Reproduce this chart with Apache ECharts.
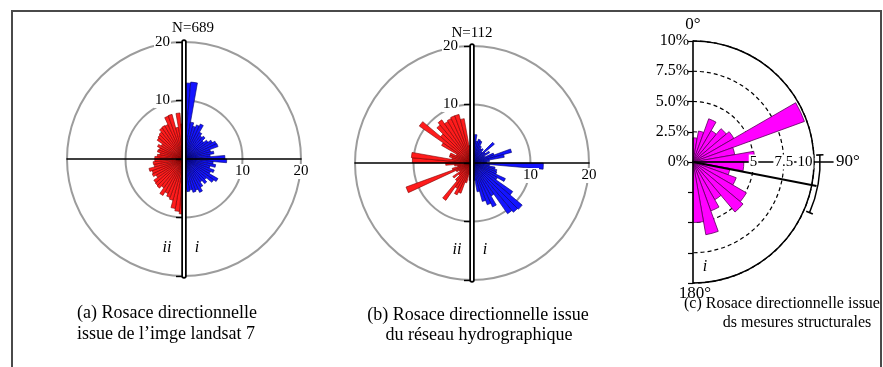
<!DOCTYPE html>
<html>
<head>
<meta charset="utf-8">
<script src="https://cdn.jsdelivr.net/npm/echarts@6/dist/echarts.min.js"></script>
<style>
  html, body { margin: 0; padding: 0; background: #fff; overflow: hidden; }
  #chart { position: absolute; left: 0; top: 0; width: 883px; height: 367px; }
  #frame { position: absolute; left: 11px; top: 10px; width: 867px; height: 420px; border: 2px solid #4a4a4a; pointer-events: none; }
</style>
</head>
<body>
<div id="chart"></div>
<div id="frame"></div>
<script>
const FONT = '"Liberation Serif", "Times New Roman", serif';

// direction classes (degrees from north, clockwise)
const bins5 = Array.from({ length: 72 }, (_, i) => String(i * 5));
const bins10 = Array.from({ length: 18 }, (_, i) => String(i * 10));

// (a) landsat 7, N=689 : 0..175 (i, blue) and 180..355 (ii, red)
const blueA = [13.0, 13.2, 6.4, 5.8, 6.2, 6.6, 5.3, 4.8, 5.1, 4.4, 5.0, 5.6, 6.1, 6.2, 4.7, 5.2, 4.5, 7.0,
               7.3, 5.0, 5.5, 4.6, 5.5, 5.0, 6.7, 6.2, 5.0, 5.5, 4.8, 5.6, 6.3, 5.7, 5.9, 5.4, 5.6, 5.2];
const redA = [9.4, 9.0, 8.6, 7.3, 7.0, 6.5, 7.2, 6.0, 6.5, 6.4, 6.3, 5.5, 6.0, 5.8, 6.2, 5.2, 5.3, 5.0,
              5.0, 4.6, 4.2, 4.7, 4.5, 5.0, 4.5, 5.6, 5.8, 6.0, 6.5, 6.6, 6.5, 7.8, 7.9, 5.5, 7.9, 6.0];

// (b) réseau hydrographique, N=112
const blueB = [4.5, 4.9, 3.8, 4.2, 4.0, 3.2, 2.8, 3.0, 2.5, 5.0, 2.8, 3.5, 2.4, 4.0, 7.0, 5.6, 3.0, 2.5,
               12.2, 3.0, 4.0, 4.4, 4.5, 6.3, 5.0, 8.5, 11.2, 11.0, 10.6, 6.5, 8.3, 7.6, 6.8, 5.0, 3.0, 2.5];
const redB = [2.5, 3.0, 2.0, 3.5, 5.5, 6.0, 5.0, 7.8, 4.0, 3.0, 4.0, 2.5, 3.0, 12.0, 3.5, 2.5, 3.0, 4.5,
              10.2, 10.4, 3.5, 4.0, 4.0, 3.0, 6.0, 11.0, 7.0, 8.5, 9.0, 8.2, 8.4, 8.6, 8.6, 7.7, 3.0, 2.0];

// (c) mesures structurales, % per 10° class (0..170)
const magentaC = [2.0, 2.6, 3.8, 3.0, 3.6, 3.9, 9.8, 3.5, 5.1, 4.2, 3.1, 3.8, 5.1, 5.4, 3.6, 4.3, 6.1, 5.0];

// (c) mean direction and its confidence arc
const meanDirC = 101;
const meanLenC = 10.4;
const confC = [86.8, 113.5];
const confRadC = 10.5;

const empty36 = blueA.map(() => '-');

const labelRich = {
  w: { backgroundColor: '#fff', color: '#000', fontFamily: FONT, fontSize: 15, padding: [0, 1] },
  s: { width: 18 }
};
const noAxis = { show: false, axisLine: { onZero: false } };

// each rose gets 3 grids: horizontal axis (bottom edge on centre),
// vertical axis (left edge on centre) and a white overlay making the double line
function roseGrids(cx, cy, R) {
  return [
    { left: cx - R, top: cy - R, width: 2 * R, height: R },
    { left: cx, top: cy - R, width: R, height: 2 * R },
    { left: cx, top: cy - R, width: R, height: 2 * R }
  ];
}

function roseAxes(g) {
  return {
    x: [
      {
        gridIndex: g, type: 'value', min: -20, max: 20, interval: 10, position: 'bottom', z: 5,
        axisLine: { onZero: false, lineStyle: { color: '#000', width: 1.6 } },
        axisTick: { show: false },
        axisLabel: { formatter: v => (v > 0 ? '{w|' + v + '}' : ''), margin: 5, rich: labelRich, color: '#000', fontFamily: FONT, fontSize: 15 },
        splitLine: { show: false }
      },
      { gridIndex: g + 1, type: 'value', ...noAxis },
      { gridIndex: g + 2, type: 'value', ...noAxis }
    ],
    y: [
      { gridIndex: g, type: 'value', ...noAxis },
      {
        gridIndex: g + 1, type: 'value', min: -20, max: 20, interval: 10, position: 'left', z: 5,
        axisLine: { onZero: false, lineStyle: { color: '#000', width: 5.5 } },
        axisTick: { show: true, length: 8, lineStyle: { color: '#000', width: 1.4 } },
        axisLabel: { formatter: v => (v > 0 ? '{w|' + v + '}' : ''), margin: 13, rich: labelRich, color: '#000', fontFamily: FONT, fontSize: 15 },
        splitLine: { show: false }
      },
      {
        gridIndex: g + 2, type: 'value', min: -20, max: 20, position: 'left', z: 6,
        axisLine: { onZero: false, lineStyle: { color: '#fff', width: 2 } },
        axisTick: { show: false }, axisLabel: { show: false }, splitLine: { show: false }
      }
    ]
  };
}

const axA = roseAxes(0);
const axB = roseAxes(3);

const hiddenAngle = { axisLine: { show: false }, axisTick: { show: false }, axisLabel: { show: false }, splitLine: { show: false } };
const grayRings = {
  axisLine: { show: false }, axisTick: { show: false }, axisLabel: { show: false },
  splitLine: { show: true, lineStyle: { color: '#9c9c9c', width: 2 } }
};

function txt(text, x, y, align, font) {
  return {
    type: 'text', x: x, y: y, silent: true,
    style: { text: text, fill: '#000', font: font || '16px ' + FONT, textAlign: align, textVerticalAlign: 'middle' }
  };
}

const chart = echarts.init(document.getElementById('chart'), null, { renderer: 'canvas' });

chart.setOption({
  backgroundColor: '#fff',
  animation: false,
  textStyle: { fontFamily: FONT },
  grid: [
    ...roseGrids(184, 159, 117),
    ...roseGrids(472, 163, 117),
    { left: 693, top: 41, width: 140, height: 121 },
    { left: 693, top: 41, width: 121, height: 242 }
  ],
  xAxis: [
    ...axA.x, ...axB.x,
    {
      gridIndex: 6, type: 'value', min: 0, max: 11.57, interval: 2.5, position: 'bottom', z: 5,
      axisLine: { onZero: false, lineStyle: { color: '#000', width: 1.6 } },
      axisTick: { show: false },
      axisLabel: {
        formatter: v => (v === 5 || v === 7.5 ? '{w|' + v + '}' : v === 10 ? '{w|10}{s|}' : ''),
        margin: 0, verticalAlign: 'middle', rich: labelRich, color: '#000', fontFamily: FONT, fontSize: 15
      },
      splitLine: { show: false },
      name: '90°', nameLocation: 'end', nameGap: 3,
      nameTextStyle: { color: '#000', fontFamily: FONT, fontSize: 17, verticalAlign: 'middle' }
    },
    { gridIndex: 7, type: 'value', ...noAxis }
  ],
  yAxis: [
    ...axA.y, ...axB.y,
    { gridIndex: 6, type: 'value', ...noAxis },
    {
      gridIndex: 7, type: 'value', min: -10, max: 10, interval: 2.5, position: 'left', z: 5,
      axisLine: { onZero: false, lineStyle: { color: '#000', width: 1.6 } },
      axisTick: { show: true, length: 5, lineStyle: { color: '#000', width: 1.2 } },
      axisLabel: {
        formatter: v => (v === 0 ? '0%' : v === 10 ? '10%' : v > 0 ? v.toFixed(1) + '%' : ''),
        margin: 4, color: '#000', fontFamily: FONT, fontSize: 16
      },
      splitLine: { show: false },
      name: '0°', nameLocation: 'end', nameGap: 8,
      nameTextStyle: { color: '#000', fontFamily: FONT, fontSize: 17 }
    }
  ],
  polar: [
    { center: [184, 159], radius: 117 },
    { center: [472, 163], radius: 117 },
    { center: [693, 162], radius: 121 },
    { center: [693, 162], radius: 121 }
  ],
  angleAxis: [
    { polarIndex: 0, type: 'category', data: bins5, startAngle: 90, clockwise: true, ...hiddenAngle },
    { polarIndex: 1, type: 'category', data: bins5, startAngle: 90, clockwise: true, ...hiddenAngle },
    {
      polarIndex: 2, type: 'category', data: bins10, startAngle: 90, endAngle: -90, clockwise: true,
      axisLine: { show: true, lineStyle: { color: '#000', width: 1.5 } },
      axisTick: { show: false }, axisLabel: { show: false }, splitLine: { show: false }
    },
    { polarIndex: 3, type: 'value', min: 0, max: 360, startAngle: 90, clockwise: true, show: false }
  ],
  radiusAxis: [
    { polarIndex: 0, type: 'value', min: 0, max: 20, interval: 10, ...grayRings },
    { polarIndex: 1, type: 'value', min: 0, max: 20, interval: 10, ...grayRings },
    {
      polarIndex: 2, type: 'value', min: 0, max: 10, interval: 2.5,
      axisLine: { show: false }, axisTick: { show: false }, axisLabel: { show: false },
      splitLine: { show: true, lineStyle: { color: '#000', width: 1.2, type: [4, 3] } }
    },
    { polarIndex: 3, type: 'value', min: 0, max: 10, show: false }
  ],
  series: [
    {
      type: 'bar', coordinateSystem: 'polar', polarIndex: 0, barCategoryGap: '0%', barGap: '-100%',
      data: blueA.concat(empty36), itemStyle: { color: '#1414ff', borderColor: '#00006a', borderWidth: 0.6 }
    },
    {
      type: 'bar', coordinateSystem: 'polar', polarIndex: 0, barCategoryGap: '0%', barGap: '-100%',
      data: empty36.concat(redA), itemStyle: { color: '#ff1c1c', borderColor: '#7a0000', borderWidth: 0.6 }
    },
    {
      type: 'bar', coordinateSystem: 'polar', polarIndex: 1, barCategoryGap: '0%', barGap: '-100%',
      data: blueB.concat(empty36), itemStyle: { color: '#1414ff', borderColor: '#00006a', borderWidth: 0.6 }
    },
    {
      type: 'bar', coordinateSystem: 'polar', polarIndex: 1, barCategoryGap: '0%', barGap: '-100%',
      data: empty36.concat(redB), itemStyle: { color: '#ff1c1c', borderColor: '#7a0000', borderWidth: 0.6 }
    },
    {
      type: 'bar', coordinateSystem: 'polar', polarIndex: 2, barCategoryGap: '0%',
      data: magentaC, itemStyle: { color: '#ff00ff', borderColor: '#5a005a', borderWidth: 0.8 }
    },
    {
      type: 'custom', coordinateSystem: 'polar', polarIndex: 3, z: 4, silent: true,
      data: [[meanLenC, meanDirC]],
      renderItem: (params, api) => {
        const c = api.coord([0, meanDirC]);
        const tip = api.coord([meanLenC, meanDirC]);
        const onArc = api.coord([confRadC, confC[0]]);
        const r = Math.hypot(onArc[0] - c[0], onArc[1] - c[1]);
        const rad = d => (d - 90) * Math.PI / 180;
        const cap = d => {
          const p1 = api.coord([confRadC - 0.3, d]);
          const p2 = api.coord([confRadC + 0.3, d]);
          return { type: 'line', shape: { x1: p1[0], y1: p1[1], x2: p2[0], y2: p2[1] }, style: { stroke: '#000', lineWidth: 1.6 } };
        };
        return {
          type: 'group',
          children: [
            { type: 'line', shape: { x1: c[0], y1: c[1], x2: tip[0], y2: tip[1] }, style: { stroke: '#000', lineWidth: 2 } },
            {
              type: 'arc',
              shape: { cx: c[0], cy: c[1], r: r, startAngle: rad(confC[0]), endAngle: rad(confC[1]), clockwise: true },
              style: { stroke: '#000', lineWidth: 1.5, fill: null }
            },
            cap(confC[0]),
            cap(confC[1])
          ]
        };
      }
    }
  ],
  graphic: [
    txt('N=689', 193, 28, 'center', '15px ' + FONT),
    txt('N=112', 472, 33, 'center', '15px ' + FONT),
    txt('ii', 167, 248, 'center', 'italic 16px ' + FONT),
    txt('i', 197, 248, 'center', 'italic 16px ' + FONT),
    txt('ii', 457, 250, 'center', 'italic 16px ' + FONT),
    txt('i', 485, 250, 'center', 'italic 16px ' + FONT),
    txt('i', 705, 267, 'center', 'italic 16px ' + FONT),
    txt('180°', 695, 294, 'center', '17px ' + FONT),
    txt('(a) Rosace directionnelle', 77, 313, 'left', '18px ' + FONT),
    txt('issue de l’imge landsat 7', 77, 334, 'left', '18px ' + FONT),
    txt('(b) Rosace directionnelle issue', 478, 315, 'center', '18px ' + FONT),
    txt('du réseau hydrographique', 479, 335, 'center', '18px ' + FONT),
    txt('(c) Rosace directionnelle issue', 782, 304, 'center', '16px ' + FONT),
    txt('ds mesures structurales', 797, 323, 'center', '16px ' + FONT)
  ]
});

window.addEventListener('resize', () => chart.resize());
</script>
</body>
</html>
